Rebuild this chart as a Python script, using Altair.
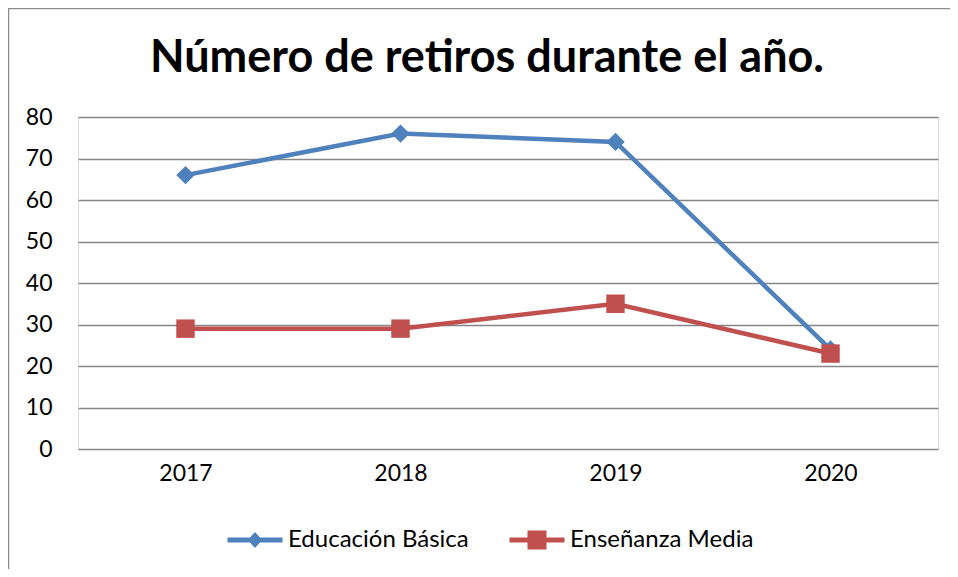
import altair as alt
import pandas as pd

years = ["2017", "2018", "2019", "2020"]
basica = [66, 76, 74, 24]
media = [29, 29, 35, 23]
series = ["Educación Básica", "Enseñanza Media"]
colors = ["#4F81BD", "#C0504D"]
title_text = "Número de retiros durante el año."

rows = []
for y, v in zip(years, basica):
    rows.append({"anio": y, "valor": v, "serie": series[0]})
for y, v in zip(years, media):
    rows.append({"anio": y, "valor": v, "serie": series[1]})
df = pd.DataFrame(rows)

FONT = "Lato"

diamond_line = ("M-3.93,-0.34L-0.72,-0.34L0,-1.14L0.72,-0.34L3.93,-0.34"
                "L3.93,0.34L0.72,0.34L0,1.14L-0.72,0.34L-3.93,0.34Z")
square_line = ("M-3.93,-0.34L-1.36,-0.34L-1.36,-1.36L1.36,-1.36L1.36,-0.34L3.93,-0.34"
               "L3.93,0.34L1.36,0.34L1.36,1.36L-1.36,1.36L-1.36,0.34L-3.93,0.34Z")

x_enc = alt.X("anio:N", sort=years, title=None,
              scale=alt.Scale(type="point", padding=0.5),
              axis=alt.Axis(labelAngle=0, domain=False, ticks=False, grid=False,
                            labelFont=FONT, labelFontSize=23, labelColor="black",
                            labelPadding=13))
y_enc = alt.Y("valor:Q", title=None,
              scale=alt.Scale(domain=[0, 80], nice=False),
              axis=alt.Axis(values=list(range(0, 81, 10)), domain=False, ticks=False,
                            grid=True, gridColor="#868686", gridWidth=1.3,
                            labelFont=FONT, labelFontSize=23, labelColor="black",
                            labelPadding=26))
color_enc = alt.Color("serie:N", scale=alt.Scale(domain=series, range=colors), legend=None)

base = alt.Chart(df)

lines = base.mark_line(strokeWidth=4.5).encode(x=x_enc, y=y_enc, color=color_enc)

points = base.mark_point(filled=True, opacity=1, size=340).encode(
    x=x_enc, y=y_enc, color=color_enc,
    shape=alt.Shape("serie:N", scale=alt.Scale(domain=series, range=["diamond", "square"]),
                    legend=None),
)

leg = alt.Legend(
    title=None, orient="none", direction="horizontal",
    legendX=165, legendY=411,
    symbolSize=196, symbolStrokeWidth=0, symbolOpacity=1,
    labelFont=FONT, labelFontSize=24, labelColor="black", labelLimit=400,
    labelOffset=21, columnPadding=40,
)

legend_layer = base.transform_filter("false").mark_point(filled=True, opacity=1).encode(
    x=x_enc, y=y_enc,
    color=alt.Color("serie:N", scale=alt.Scale(domain=series, range=colors), legend=leg),
    shape=alt.Shape("serie:N",
                    scale=alt.Scale(domain=series, range=[diamond_line, square_line]),
                    legend=leg),
)

border = alt.Chart(pd.DataFrame({"a": [0]})).mark_rule(color="#8c8c8c", strokeWidth=1.5).encode(
    x=alt.value(-69.5), y=alt.value(-109), y2=alt.value(460)
)
border_top = alt.Chart(pd.DataFrame({"a": [0]})).mark_rule(color="#8c8c8c", strokeWidth=1.5).encode(
    x=alt.value(-70), x2=alt.value(880), y=alt.value(-108.5)
)

chart = alt.layer(border, border_top, lines, points, legend_layer).resolve_scale(
    shape="independent", color="independent"
).properties(
    width=860, height=332,
    title=alt.Title(title_text, font=FONT, fontSize=45, fontWeight="bold", color="black",
                    anchor="middle", dx=-21, offset=0, dy=110, baseline="alphabetic"),
    autosize=alt.AutoSizeParams(type="none"),
    padding={"left": 70, "top": 109, "right": 12, "bottom": 120},
).configure_view(stroke=None).configure(background="white")

chart.save("out.html", embed_options={"renderer": "svg", "actions": False})
